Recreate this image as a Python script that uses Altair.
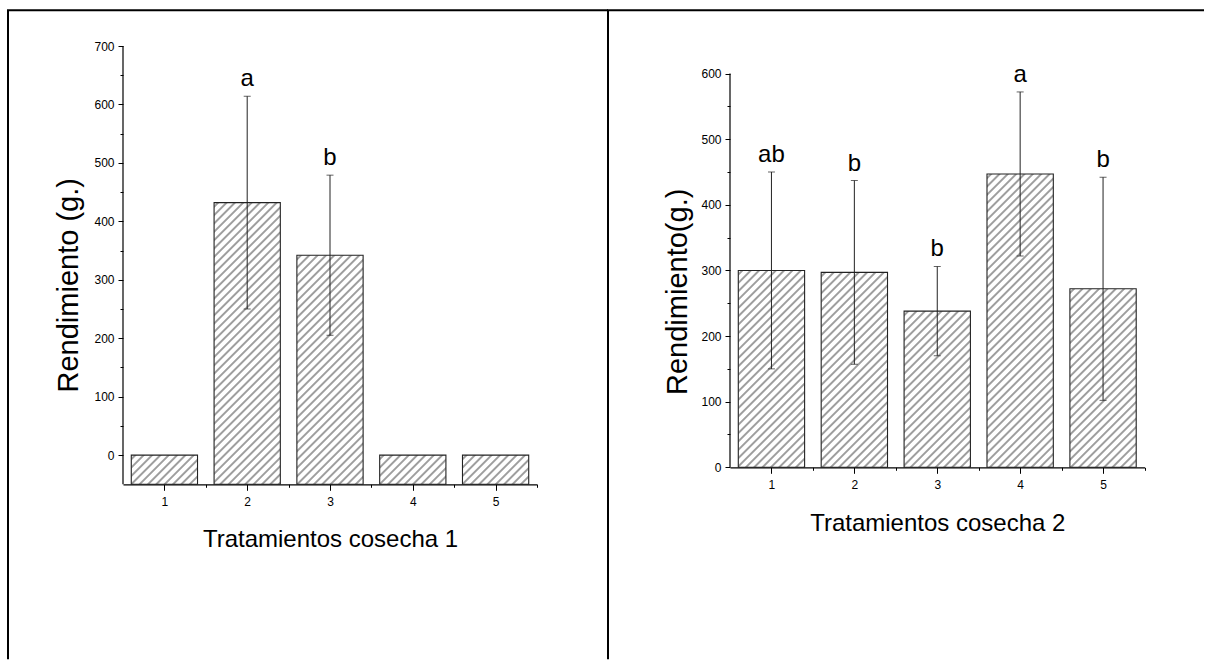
import base64

import altair as alt
import pandas as pd

# Treatments and harvest results (mean yield in g and standard deviation)
categories = [1, 2, 3, 4, 5]

harvest1_mean = [0, 432, 342, 0, 0]
harvest1_sd = [0, 182, 137, 0, 0]
harvest1_group = ["", "a", "b", "", ""]

harvest2_mean = [300, 297, 238, 447, 272]
harvest2_sd = [150, 140, 68, 125, 170]
harvest2_group = ["ab", "b", "b", "a", "b"]

BODY_FONT = '"Liberation Sans", Arial, sans-serif'

# Diagonal hatch used as the bar fill (rendered 1:1 inside each bar box)
HATCH_SVG = (
    "<svg xmlns='http://www.w3.org/2000/svg' width='100%' height='100%'>"
    "<defs><pattern id='h' width='5.9' height='5.9' patternUnits='userSpaceOnUse' "
    "patternTransform='rotate(45)'>"
    "<line x1='2.95' y1='-1' x2='2.95' y2='7' stroke='#000' stroke-width='0.75'/>"
    "</pattern></defs>"
    "<rect width='100%' height='100%' fill='url(#h)'/></svg>"
)
HATCH_URL = "data:image/svg+xml;base64," + base64.b64encode(HATCH_SVG.encode()).decode()


def frame_layer(segments):
    """Black page border segments, given in pixels relative to the plot area."""
    layers = []
    for x1, x2, y1, y2 in segments:
        enc = {"x": alt.value(x1), "y": alt.value(y1)}
        if x2 is not None:
            enc["x2"] = alt.value(x2)
        if y2 is not None:
            enc["y2"] = alt.value(y2)
        layers.append(
            alt.Chart(alt.Data(values=[{"k": 0}]))
            .mark_rule(color="black", strokeWidth=2, strokeCap="butt")
            .encode(**enc)
        )
    return layers


def panel(mean, sd, group, ymin, ytop, ydomain_top, xtitle, ytitle, width, height,
          ytitle_x, ytitle_y, xtitle_y, xtitle_size, frame):
    df = pd.DataFrame({"cat": categories, "mean": mean, "sd": sd, "group": group})
    base = alt.Chart(df).transform_calculate(
        left="datum.cat - 0.4",
        right="datum.cat + 0.4",
        lo="datum.mean - datum.sd",
        hi="datum.mean + datum.sd",
    )
    xs = alt.Scale(domain=[0.5, 5.5], nice=False, zero=False)
    ys = alt.Scale(domain=[ymin, ydomain_top], nice=False, zero=False)

    major_x = alt.Axis(
        orient="bottom", values=categories, format="d", tickSize=6, labelPadding=6,
        labelFont=BODY_FONT, labelFontSize=12, labelColor="black",
        domainColor="black", domainWidth=1.2, tickColor="black", tickWidth=1,
        grid=False, title=xtitle, titleFont=BODY_FONT, titleFontSize=xtitle_size,
        titleFontWeight="normal", titleColor="black", titleBaseline="alphabetic",
        titleY=xtitle_y, labelFlush=False,
    )
    minor_x = alt.Axis(
        orient="bottom", values=[1.5, 2.5, 3.5, 4.5, 5.5], tickSize=3, labels=False,
        domain=False, grid=False, title=None, tickColor="black", tickWidth=1,
    )
    major_y = alt.Axis(
        orient="left", values=list(range(0, ytop + 1, 100)), tickSize=5, labelPadding=4,
        labelFont=BODY_FONT, labelFontSize=12, labelColor="black",
        domain=False, tickColor="black", tickWidth=1,
        grid=False, title=ytitle, titleFont=BODY_FONT, titleFontSize=29,
        titleFontWeight="normal", titleColor="black", titleAngle=270,
        titleBaseline="middle", titleAlign="center", titleX=ytitle_x, titleY=ytitle_y,
    )
    minor_y = alt.Axis(
        orient="left", values=list(range(50, ytop, 100)), tickSize=3, labels=False,
        domain=False, grid=False, title=None, tickColor="black", tickWidth=1,
    )

    hatch = base.mark_image(aspect=False).encode(
        x=alt.X("left:Q", scale=xs, axis=major_x),
        x2="right:Q",
        y=alt.Y("mean:Q", scale=ys, axis=major_y),
        y2=alt.datum(ymin),
        url=alt.value(HATCH_URL),
    )
    outline = base.mark_bar(fillOpacity=0, stroke="#222", strokeWidth=1.1).encode(
        x=alt.X("left:Q", scale=xs, axis=minor_x),
        x2="right:Q",
        y=alt.Y("mean:Q", scale=ys, axis=minor_y),
        y2=alt.datum(ymin),
    )
    # vertical axis line, running from the lowest value to the last labelled tick
    y_axis_line = (
        alt.Chart(alt.Data(values=[{"k": 0}]))
        .mark_rule(color="black", strokeWidth=1.2)
        .encode(
            x=alt.value(0),
            y=alt.Y(datum=ymin, scale=ys, axis=None),
            y2=alt.Y2(datum=ytop),
        )
    )
    err = base.transform_filter("datum.sd > 0")
    whisker = err.mark_rule(color="#222", strokeWidth=1).encode(
        x=alt.X("cat:Q", scale=xs, axis=None),
        y=alt.Y("lo:Q", scale=ys, axis=None),
        y2="hi:Q",
    )
    caps = err.transform_fold(["lo", "hi"], as_=["end", "val"]).mark_tick(
        orient="horizontal", size=7, thickness=1, color="#222"
    ).encode(
        x=alt.X("cat:Q", scale=xs, axis=None),
        y=alt.Y("val:Q", scale=ys, axis=None),
    )
    letters = err.transform_filter("datum.group != ''").mark_text(
        font=BODY_FONT, fontSize=24, baseline="alphabetic", dy=-10, color="black"
    ).encode(
        x=alt.X("cat:Q", scale=xs, axis=None),
        y=alt.Y("hi:Q", scale=ys, axis=None),
        text="group:N",
    )

    return (
        alt.layer(hatch, outline, y_axis_line, whisker, caps, letters, *frame_layer(frame))
        .resolve_axis(x="independent", y="independent")
        .properties(width=width, height=height)
    )


# Both plot areas share the same top edge; the right one leaves headroom above 600
left_panel = panel(
    harvest1_mean, harvest1_sd, harvest1_group, -50, 700, 700,
    "Tratamientos cosecha 1", "Rendimiento (g.)",
    414, 438.3, -55, 238.8, 61.7, 24,
    [(-115, None, -35.7, 613.3), (-116, 485, -35.7, None)],
)
right_panel = panel(
    harvest2_mean, harvest2_sd, harvest2_group, 0, 600, 642,
    "Tratamientos cosecha 2", "Rendimiento(g.)",
    414.5, 421.3, -53, 245.3, 62.8, 24,
    [(-122, None, -35.7, 613.3), (-123, 474, -35.7, None)],
)

chart = (
    alt.hconcat(left_panel, right_panel, spacing=-3)
    .properties(padding={"left": 6, "top": 9, "right": 0, "bottom": 0})
    .configure_view(stroke=None)
)

chart.save("out.html", embed_options={"renderer": "svg", "actions": False})
